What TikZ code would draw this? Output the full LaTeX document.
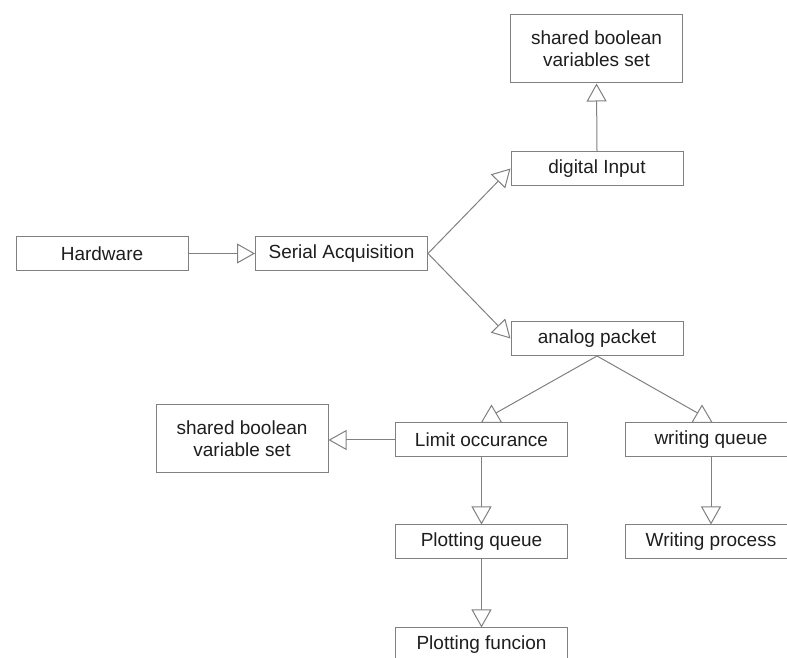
\documentclass[tikz,border=0pt]{standalone}
\usepackage{fontspec}
\setmainfont{Liberation Sans}
\usetikzlibrary{arrows.meta,calc}
\definecolor{edge}{RGB}{128,128,128}
\definecolor{ink}{RGB}{30,30,30}
\begin{document}
\begin{tikzpicture}[x=1pt,y=1pt,
  box/.style={draw=edge, line width=1pt, fill=white, minimum width=172pt,
    minimum height=34pt, inner sep=0pt, text=ink, align=center,
    font=\fontsize{19}{22}\selectfont},
  tallbox/.style={box, minimum height=68pt},
  link/.style={draw=edge, line width=1pt,
    -{Triangle[open, fill=white, length=18pt, width=20pt]}},
  head/.style={draw=edge, line width=1pt, fill=white}]
\useasboundingbox (0,0) rectangle (787,658);
\clip (0,0) rectangle (787,658);

% boxes
\node[tallbox] (sbs) at (596.5,609) {shared boolean\\variables set};
\node[box] (di)  at (597,489.5) {digital Input};
\node[box] (hw)  at (102,404.5) {Hardware};
\node[box] (sa)  at (341.5,404.5) {Serial Acquisition};
\node[box] (ap)  at (597,319.5) {analog packet};
\node[tallbox] (sbv) at (242,219) {shared boolean\\variable set};
\node[box] (lim) at (481.5,218) {Limit occurance};
\node[box] (wq)  at (711,218) {writing queue};
\node[box] (pq)  at (481.5,116) {Plotting queue};
\node[box] (wp)  at (711,116) {Writing process};
\node[box] (pf)  at (481.5,13) {Plotting funcion};

% straight connectors
\draw[link] (hw.east) -- (sa.west);
\draw[link] (sa.east) -- (di.west);
\draw[link] (sa.east) -- (ap.west);
\draw[link] (di.north) -- (sbs.south);
\draw[link] (lim.west) -- (lim.west -| sbv.east);
\draw[link] (lim.south) -- (pq.north);
\draw[link] (wq.south) -- (wp.north);
\draw[link] (pq.south) -- (pf.north);

% branches from the analog packet with upright heads on the box tops
\coordinate (tl) at ($(lim.north)+(10,0)$);
\coordinate (tr) at ($(wq.north)+(-9,0)$);
\draw[draw=edge, line width=1pt] (ap.south) -- ($(tl)+(0,7)$);
\draw[draw=edge, line width=1pt] (ap.south) -- ($(tr)+(0,7)$);
\draw[head] ($(tl)+(-10,0)$) -- ($(tl)+(0,17)$) -- ($(tl)+(10,0)$) -- cycle;
\draw[head] ($(tr)+(-10,0)$) -- ($(tr)+(0,17)$) -- ($(tr)+(10,0)$) -- cycle;
\end{tikzpicture}
\end{document}
